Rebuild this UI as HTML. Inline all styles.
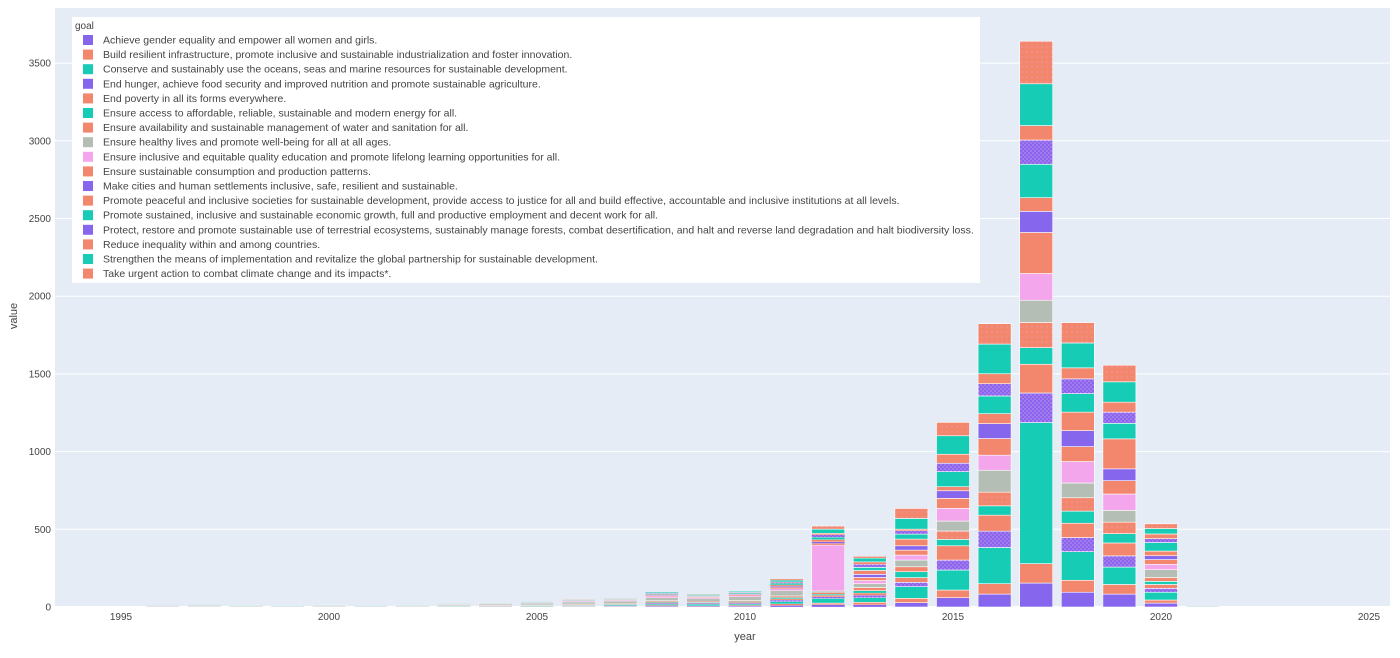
<!DOCTYPE html>
<html><head><meta charset="utf-8"><style>
body{margin:0;background:#fff;}
svg text{font-family:"Liberation Sans",sans-serif;}
</style></head><body>
<svg id="chart" width="1400" height="653" xmlns="http://www.w3.org/2000/svg">
<defs>
<pattern id="dotP" width="4" height="4" patternUnits="userSpaceOnUse"><rect width="4" height="4" fill="#8766ee"/><circle cx="1" cy="1" r="0.6" fill="#f4a6ec"/><circle cx="3" cy="3" r="0.6" fill="#f4a6ec"/></pattern>
<pattern id="dotS" width="5" height="5" patternUnits="userSpaceOnUse"><rect width="5" height="5" fill="#f2876d"/><circle cx="2" cy="2" r="0.5" fill="#f4a6ec"/></pattern>
</defs>
<rect x="55" y="8" width="1335" height="599" fill="#e5ecf6"/>
<g id="grid"></g>
<g id="bars"></g>
<g id="axes"></g>
<g id="legend"></g>
</svg>
<script>
const years=[1996,1997,1998,1999,2000,2001,2002,2003,2004,2005,2006,2007,2008,2009,2010,2011,2012,2013,2014,2015,2016,2017,2018,2019,2020,2021];
const goals=["Achieve gender equality and empower all women and girls.","Build resilient infrastructure, promote inclusive and sustainable industrialization and foster innovation.","Conserve and sustainably use the oceans, seas and marine resources for sustainable development.","End hunger, achieve food security and improved nutrition and promote sustainable agriculture.","End poverty in all its forms everywhere.","Ensure access to affordable, reliable, sustainable and modern energy for all.","Ensure availability and sustainable management of water and sanitation for all.","Ensure healthy lives and promote well-being for all at all ages.","Ensure inclusive and equitable quality education and promote lifelong learning opportunities for all.","Ensure sustainable consumption and production patterns.","Make cities and human settlements inclusive, safe, resilient and sustainable.","Promote peaceful and inclusive societies for sustainable development, provide access to justice for all and build effective, accountable and inclusive institutions at all levels.","Promote sustained, inclusive and sustainable economic growth, full and productive employment and decent work for all.","Protect, restore and promote sustainable use of terrestrial ecosystems, sustainably manage forests, combat desertification, and halt and reverse land degradation and halt biodiversity loss.","Reduce inequality within and among countries.","Strengthen the means of implementation and revitalize the global partnership for sustainable development.","Take urgent action to combat climate change and its impacts*."];
const g0=[0,1,0,0,1,0,1,1,1,2,2,3,5,4,5,10,15,15,28,60,83,154,95,83,25,1];
const g1=[1,1,1,1,1,1,1,1,2,2,3,3,5,4,5,10,10,15,28,49,67,125,77,62,20,0];
const g2=[1,1,1,1,1,1,1,2,2,3,4,5,8,10,8,15,30,30,75,129,233,908,184,112,50,1];
const g3=[1,1,0,1,0,1,1,1,2,2,3,3,6,5,6,10,10,15,28,64,105,190,91,72,25,0];
const g4=[1,1,1,0,1,0,1,1,1,2,3,3,5,4,6,8,10,15,30,92,103,185,92,83,25,0];
const g5=[0,1,0,1,0,1,0,1,1,2,2,3,5,4,5,8,8,15,38,41,60,107,78,60,20,0];
const g6=[1,1,1,1,1,1,1,1,2,2,3,3,6,5,6,10,10,20,32,54,88,162,86,74,25,1];
const g7=[3,3,3,2,3,2,3,5,6,8,12,14,20,18,25,35,10,25,43,64,141,143,95,76,50,1];
const g8=[1,1,1,1,1,1,1,2,2,3,4,4,8,6,7,12,296,20,32,82,97,172,138,105,35,0];
const g9=[0,1,0,0,1,0,0,1,1,2,2,3,5,4,5,8,10,20,32,64,107,264,96,86,30,0];
const g10=[1,1,0,1,0,1,1,1,1,1,2,2,4,3,4,8,10,20,28,49,96,136,103,76,25,0];
const g11=[0,1,0,0,1,0,0,1,1,1,2,2,4,3,4,8,15,25,43,26,64,88,119,193,30,0];
const g12=[1,1,1,1,1,0,1,1,1,2,3,3,5,4,5,10,15,20,32,97,114,215,119,100,55,0];
const g13=[0,0,0,0,0,0,0,1,1,1,2,2,4,2,3,6,15,20,22,54,79,156,95,72,25,0];
const g14=[0,0,0,0,0,0,0,0,0,1,1,1,2,2,2,4,10,15,10,58,64,93,71,64,30,0];
const g15=[1,1,1,1,1,1,1,1,1,1,2,2,5,4,4,10,27,25,69,119,191,269,160,131,35,1];
const g16=[0,0,0,0,0,0,0,0,0,0,1,1,0,2,0,8,20,10,64,86,131,274,131,107,30,0];
const yTicks=[0,500,1000,1500,2000,2500,3000,3500];
const xTicks=[1995,2000,2005,2010,2015,2020,2025];
const series=[g0,g1,g2,g3,g4,g5,g6,g7,g8,g9,g10,g11,g12,g13,g14,g15,g16];
const fills=["#8766ee","#f2876d","#17ccb5","url(#dotP)","#f2876d","#17ccb5","url(#dotS)","#b4beb4","#f4a6ec","#f2876d","#8766ee","#f2876d","#17ccb5","url(#dotP)","#f2876d","#17ccb5","url(#dotS)"];
const swatch=["#8766ee","#f2876d","#17ccb5","#8766ee","#f2876d","#17ccb5","#f2876d","#b4beb4","#f4a6ec","#f2876d","#8766ee","#f2876d","#17ccb5","#8766ee","#f2876d","#17ccb5","#f2876d"];
const NS="http://www.w3.org/2000/svg";
const X=v=>121+(v-1995)*41.6;
const Y=v=>607-v*0.1554;
function mk(tag,attrs,parent){const e=document.createElementNS(NS,tag);for(const k in attrs)e.setAttribute(k,attrs[k]);parent.appendChild(e);return e;}
const grid=document.getElementById('grid'),bars=document.getElementById('bars'),axes=document.getElementById('axes'),leg=document.getElementById('legend');
yTicks.forEach(t=>{
  const l=mk('line',{x1:55,x2:1390,y1:Y(t),y2:Y(t),stroke:'#fff','stroke-width':t===0?2:1},grid);
  
  
  const tx=mk('text',{x:51,y:Y(t)+3.5,'text-anchor':'end','font-size':10,fill:'#444'},axes);
  tx.textContent=t;
  
  
});
xTicks.forEach(t=>{
  const tx=mk('text',{x:X(t),y:620,'text-anchor':'middle','font-size':10,fill:'#444'},axes);
  tx.textContent=t;
  
  
});
const xt=mk('text',{x:745,y:640,'text-anchor':'middle','font-size':11,fill:'#444'},axes);xt.textContent='year';


const yt=mk('text',{x:17,y:316,'text-anchor':'middle','font-size':11,fill:'#444',transform:'rotate(-90 17 316)'},axes);yt.textContent='value';


const bw=33;
years.forEach((yr,i)=>{
  let base=0;
  series.forEach((s,g)=>{
    const v=s[i];if(!v)return;
    const h=Y(base)-Y(base+v);
    const r=mk('rect',{x:X(yr)-bw/2,y:Y(base+v),width:bw,height:h,fill:fills[g],stroke:'#fff','stroke-width':h<3?0.2:0.6},bars);
    
    
    base+=v;
  });
});
const lb=mk('rect',{x:72,y:17,width:908,height:266,fill:'#fff'},leg);


const lt=mk('text',{x:75,y:29,'font-size':10,fill:'#444'},leg);lt.textContent='goal';


goals.forEach((name,g)=>{
  const y=40+g*14.6;
  const gr=mk('g',{},leg);
  
  
  mk('rect',{x:83,y:y-5,width:10,height:10,fill:swatch[g]},gr);
  const t=mk('text',{x:103,y:y+3.5,'font-size':10.5,fill:'#444'},gr);t.textContent=name;
});
</script>
</body></html>
